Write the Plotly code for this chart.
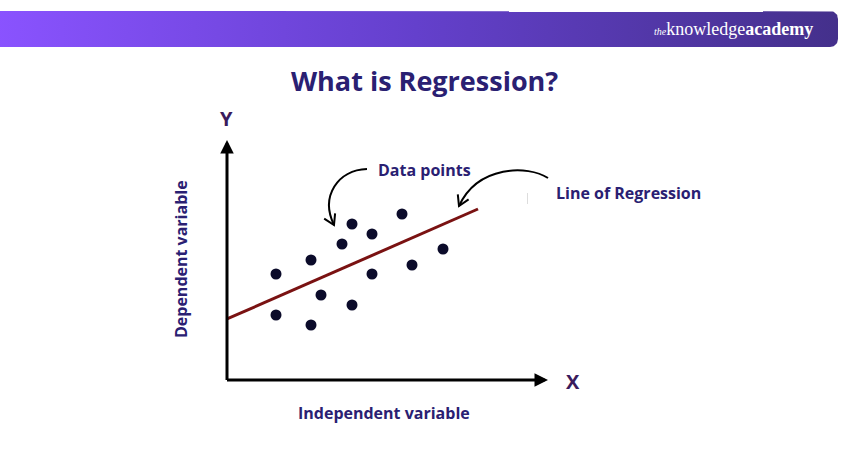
import math
import plotly.graph_objects as go

# ---------------- data ----------------
point_x = [4.9, 4.9, 8.4, 8.4, 9.4, 11.5, 12.5, 12.5, 14.5, 14.5, 17.5, 18.5, 21.6]
point_y = [10.6, 6.5, 12.0, 5.5, 8.5, 13.6, 15.6, 7.5, 14.6, 10.6, 16.6, 11.5, 13.1]
line_x = [0.0, 25.1]
line_y = [6.1, 17.1]
axis_max_x = 32.1
axis_max_y = 24.0

title_text = "What is Regression?"
x_label = "Independent variable"
y_label = "Dependent variable"
points_label = "Data points"
line_label = "Line of Regression"

W, H = 850, 450
TXT = "#2A2072"
AXL = "#3A1B5C"
FONT = "Open Sans"

fig = go.Figure()

# ---------- header bar (pixel space on x/y) ----------
def rounded_bar(x0, x1, y0, y1, r, n=10, m=20):
    xs = [x0 + (x1 - r - x0) * i / m for i in range(m + 1)]
    ys = [y0] * (m + 1)
    for i in range(n + 1):
        a = -math.pi / 2 + (math.pi / 2) * i / n
        xs.append(x1 - r + r * math.cos(a)); ys.append(y0 + r + r * math.sin(a))
    for i in range(n + 1):
        a = (math.pi / 2) * i / n
        xs.append(x1 - r + r * math.cos(a)); ys.append(y1 - r + r * math.sin(a))
    xs += [x0 + (x1 - r - x0) * (m - i) / m for i in range(m + 1)]
    ys += [y1] * (m + 1)
    xs.append(x0); ys.append(y0)
    return xs, ys

bx, by = rounded_bar(-5, 838, 11, 47, 8)
fig.add_trace(go.Scatter(
    x=bx, y=by, xaxis="x", yaxis="y", mode="lines", line=dict(width=0),
    fill="toself",
    fillgradient=dict(type="horizontal",
                      colorscale=[[0, "#8A53FF"], [0.5, "#6440CC"], [1, "#44308B"]]),
    hoverinfo="skip", showlegend=False))

# ---------- data traces ----------
fig.add_trace(go.Scatter(
    x=line_x, y=line_y, xaxis="x2", yaxis="y2", mode="lines",
    line=dict(color="#7A1212", width=3), hoverinfo="skip", showlegend=False))
fig.add_trace(go.Scatter(
    x=point_x, y=point_y, xaxis="x2", yaxis="y2", mode="markers",
    marker=dict(size=11, color="#0B0B2A"), hoverinfo="skip", showlegend=False))

# ---------- curved arrows ----------
def head(tip, frm, L=10, Wd=6):
    dx, dy = tip[0] - frm[0], tip[1] - frm[1]
    d = math.hypot(dx, dy); ux, uy = dx / d, dy / d
    nx, ny = -uy, ux
    b1 = (tip[0] - L * ux + Wd * nx, tip[1] - L * uy + Wd * ny)
    b2 = (tip[0] - L * ux - Wd * nx, tip[1] - L * uy - Wd * ny)
    return f"M {b1[0]:.1f},{b1[1]:.1f} L {tip[0]},{tip[1]} L {b2[0]:.1f},{b2[1]:.1f}"

shapes = []
# data points arrow
p0, c1, c2, p3 = (367, 169), (338, 170), (320, 196), (334, 225)
shapes.append(dict(type="path", xref="x", yref="y",
                   path=f"M {p0[0]},{p0[1]} C {c1[0]},{c1[1]} {c2[0]},{c2[1]} {p3[0]},{p3[1]}",
                   line=dict(color="black", width=2)))
shapes.append(dict(type="path", xref="x", yref="y", path=head(p3, c2),
                   line=dict(color="black", width=2)))
# regression line arrow
p0, c1, c2, p3 = (548, 178), (528, 165), (478, 165), (459, 206)
shapes.append(dict(type="path", xref="x", yref="y",
                   path=f"M {p0[0]},{p0[1]} C {c1[0]},{c1[1]} {c2[0]},{c2[1]} {p3[0]},{p3[1]}",
                   line=dict(color="black", width=2)))
shapes.append(dict(type="path", xref="x", yref="y", path=head(p3, c2),
                   line=dict(color="black", width=2)))
# faint artifact line
shapes.append(dict(type="line", xref="x", yref="y", x0=527.5, x1=527.5, y0=193, y1=204,
                   line=dict(color="#dddddd", width=1)))

annotations = []
# axis arrows (data space)
annotations.append(dict(xref="x2", yref="y2", axref="x2", ayref="y2",
                        x=axis_max_x, y=0, ax=-0.15, ay=0, text="", showarrow=True,
                        arrowhead=2, arrowsize=0.9, arrowwidth=3, arrowcolor="black"))
annotations.append(dict(xref="x2", yref="y2", axref="x2", ayref="y2",
                        x=0, y=axis_max_y, ax=0, ay=-0.15, text="", showarrow=True,
                        arrowhead=2, arrowsize=0.9, arrowwidth=3, arrowcolor="black"))

def txt(x, y, s, size, color=TXT, **kw):
    d = dict(xref="x", yref="y", x=x, y=y, text=s, showarrow=False,
             font=dict(family=FONT, size=size, color=color))
    d.update(kw)
    annotations.append(d)

txt(424, 80, f"<b>{title_text}</b>", 27)
txt(424, 170, f"<b>{points_label}</b>", 16)
txt(554, 193, f"<b>{line_label}</b>", 16, xanchor="left")
txt(384, 413, f"<b>{x_label}</b>", 16)
txt(181, 259, f"<b>{y_label}</b>", 16, textangle=-90)
txt(573, 381, "<b>X</b>", 20, color=AXL)
txt(226, 118, "<b>Y</b>", 20, color=AXL)
# logo
annotations.append(dict(xref="x", yref="y", x=815, y=29, xanchor="right", showarrow=False,
                        text="<i><span style='font-size:10px'>the</span></i>knowledge<b>academy</b>",
                        font=dict(family="Liberation Serif", size=18, color="white")))

fig.update_layout(
    width=W, height=H, margin=dict(l=0, r=0, t=0, b=0),
    paper_bgcolor="white", plot_bgcolor="rgba(0,0,0,0)",
    xaxis=dict(domain=[0, 1], range=[0, W], visible=False, fixedrange=True),
    yaxis=dict(domain=[0, 1], range=[H, 0], visible=False, fixedrange=True),
    xaxis2=dict(domain=[227 / W, 548 / W], range=[0, axis_max_x], visible=False, anchor="y2"),
    yaxis2=dict(domain=[1 - 380 / H, 1 - 140 / H], range=[0, axis_max_y], visible=False, anchor="x2"),
    shapes=shapes, annotations=annotations, showlegend=False,
)

fig.write_html("out.html", post_script="document.body.style.margin='0';",
               config={"displayModeBar": False})
